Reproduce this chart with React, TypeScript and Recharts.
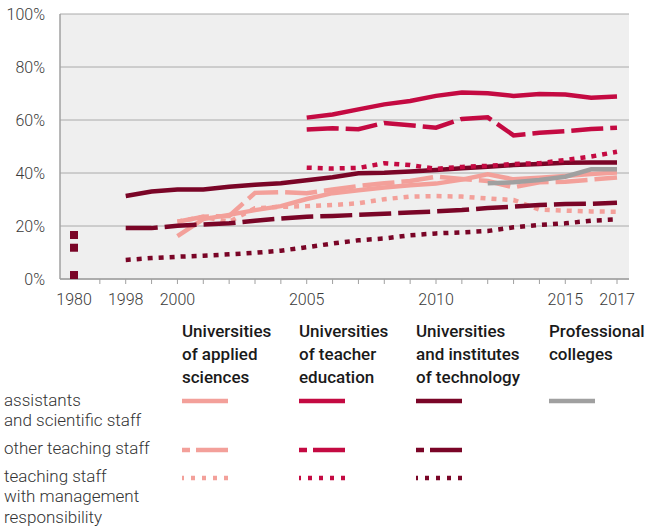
import React from "react";
import { LineChart, Line, XAxis, YAxis, CartesianGrid } from "recharts";

// categories: 1980 stands apart, "1997" is an empty slot that breaks the lines
const years = [
  "1980", "1997", "1998", "1999", "2000", "2001", "2002", "2003", "2004", "2005", "2006",
  "2007", "2008", "2009", "2010", "2011", "2012", "2013", "2014", "2015", "2016", "2017",
];
const labelledYears = ["1980", "1998", "2000", "2005", "2010", "2015", "2017"];
const yTicks = [0, 20, 40, 60, 80, 100];

const _ = null;

// universities of applied sciences
const appliedAssistants = [_, _, _, _, 16.2, 22.6, 24.2, 26.0, 27.5, 30.2, 32.4, 33.5, 34.5, 35.4, 36.0, 37.5, 39.5, 37.6, 38.2, 38.9, 39.6, 40.2];
const appliedOther = [_, _, _, _, 21.6, 23.5, 23.8, 32.5, 32.8, 32.4, 33.8, 35.1, 36.1, 37.0, 38.6, 37.7, 37.0, 34.6, 36.5, 36.7, 37.5, 38.3];
const appliedManagement = [_, _, _, _, 21.6, 23.5, 21.6, 26.7, 27.2, 27.5, 27.9, 28.6, 30.1, 31.1, 31.3, 31.1, 30.4, 29.8, 26.2, 25.8, 25.5, 25.4];

// universities of teacher education
const teacherAssistants = [_, _, _, _, _, _, _, _, _, 60.9, 62.1, 64.0, 65.9, 67.2, 69.1, 70.4, 70.1, 69.1, 69.8, 69.6, 68.4, 68.9];
const teacherOther = [_, _, _, _, _, _, _, _, _, 56.4, 56.9, 56.5, 58.9, 58.0, 57.1, 60.4, 61.0, 54.2, 55.2, 55.8, 56.6, 57.1];
const teacherManagement = [_, _, _, _, _, _, _, _, _, 42.0, 41.7, 41.9, 43.7, 43.0, 41.6, 42.3, 42.7, 43.4, 43.7, 44.9, 46.2, 48.0];

// universities and institutes of technology
const techAssistants = [16.6, _, 31.3, 33.0, 33.8, 33.8, 34.8, 35.6, 36.1, 37.3, 38.4, 39.9, 40.1, 40.6, 41.1, 41.8, 42.4, 43.0, 43.4, 43.9, 44.0, 44.0];
const techOther = [11.8, _, 19.2, 19.2, 20.1, 20.6, 21.0, 22.0, 22.8, 23.5, 23.8, 24.2, 24.6, 25.1, 25.5, 26.0, 26.8, 27.3, 27.9, 28.3, 28.4, 28.8];
const techManagement = [1.5, _, 7.2, 7.9, 8.4, 8.8, 9.3, 9.9, 10.7, 12.0, 13.4, 14.6, 15.3, 16.5, 17.2, 17.6, 18.1, 19.5, 20.4, 21.0, 22.0, 22.5];

// professional colleges
const profAssistants = [_, _, _, _, _, _, _, _, _, _, _, _, _, _, _, _, 36.1, 36.5, 37.4, 38.6, 41.4, 41.4];

const institutions = [
  { id: "applied", lines: ["Universities", "of applied", "sciences"] },
  { id: "teacher", lines: ["Universities", "of teacher", "education"] },
  { id: "tech", lines: ["Universities", "and institutes", "of technology"] },
  { id: "prof", lines: ["Professional", "colleges"] },
];
const staff = [
  { id: "assist", lines: ["assistants", "and scientific staff"] },
  { id: "other", lines: ["other teaching staff"] },
  { id: "mgmt", lines: ["teaching staff", "with management", "responsibility"] },
];

const colors: Record<string, string> = {
  applied: "#f3a09a",
  teacher: "#c40a42",
  tech: "#7a0527",
  prof: "#a0a0a0",
};
const dashes: Record<string, string | undefined> = {
  assist: undefined,
  other: "32 7",
  mgmt: "5 6",
};

const series = [
  { key: "appliedAssistants", inst: "applied", kind: "assist", values: appliedAssistants },
  { key: "appliedOther", inst: "applied", kind: "other", values: appliedOther },
  { key: "appliedManagement", inst: "applied", kind: "mgmt", values: appliedManagement },
  { key: "techAssistants", inst: "tech", kind: "assist", values: techAssistants },
  { key: "techOther", inst: "tech", kind: "other", values: techOther },
  { key: "techManagement", inst: "tech", kind: "mgmt", values: techManagement },
  { key: "teacherAssistants", inst: "teacher", kind: "assist", values: teacherAssistants },
  { key: "teacherOther", inst: "teacher", kind: "other", values: teacherOther },
  { key: "teacherManagement", inst: "teacher", kind: "mgmt", values: teacherManagement },
  { key: "profAssistants", inst: "prof", kind: "assist", values: profAssistants },
];

const data = years.map((year, i) => {
  const row: Record<string, string | number | null> = { year };
  series.forEach((s) => (row[s.key] = s.values[i]));
  return row;
});

const font = "Roboto, 'Noto Sans', sans-serif";

function YearTick(props: any) {
  const { x, y, payload, index } = props;
  const label = labelledYears.includes(payload.value) ? payload.value : "";
  return (
    <g>
      {index > 0 && <line x1={x} x2={x} y1={y} y2={y + 5} stroke="#a0a0a0" strokeWidth={1} />}
      <text x={x} y={y + 26} textAnchor="middle" fontSize={16} fill="#3a3a3a" fontFamily={font} fontWeight={300}>
        {label}
      </text>
    </g>
  );
}

// the lone 1980 values are drawn as squares
function squareDot(color: string) {
  return (props: any) => {
    const { cx, cy, index, value } = props;
    if (index !== 0 || value == null) return <g key={`d${index}`} />;
    return <rect key={`d${index}`} x={cx - 4} y={cy - 4} width={8} height={8} fill={color} />;
  };
}

function Sample({ inst, kind }: { inst: string; kind: string }) {
  const dash = kind === "other" ? "8 6 32" : kind === "mgmt" ? "4 7" : undefined;
  return (
    <svg width={48} height={8} style={{ display: "block" }}>
      <line
        x1={0}
        x2={46}
        y1={4}
        y2={4}
        stroke={colors[inst]}
        strokeWidth={4.5}
        strokeDasharray={dash}
        strokeDashoffset={kind === "mgmt" ? 2 : 0}
      />
    </svg>
  );
}

const colX = [182, 299, 416, 549];
const rowTop = [389.5, 438, 465.5];
const sampleY = [401, 450, 478];

export default function App() {
  return (
    <div style={{ position: "absolute", left: 0, top: 0, width: 652, height: 528, background: "#fff", fontFamily: font }}>
      <LineChart width={652} height={320} data={data} margin={{ top: 14, right: 23, bottom: 0, left: 0 }}>
        <CartesianGrid vertical={false} stroke="#aaaaaa" fill="#efefef" />
        <XAxis
          dataKey="year"
          type="category"
          interval={0}
          height={41}
          padding={{ left: 14, right: 12 }}
          tickSize={0}
          tickMargin={0}
          tickLine={false}
          axisLine={{ stroke: "#a0a0a0", strokeWidth: 1.5 }}
          tick={<YearTick />}
        />
        <YAxis
          domain={[0, 100]}
          ticks={yTicks}
          width={60}
          tickSize={0}
          tickMargin={15}
          tickLine={false}
          axisLine={{ stroke: "#a0a0a0", strokeWidth: 1.5 }}
          tickFormatter={(v) => `${v}%`}
          tick={{ fontSize: 16, fill: "#3a3a3a", fontFamily: font, fontWeight: 300 }}
        />
        <YAxis yAxisId="right" orientation="right" domain={[0, 100]} width={0} tick={false} tickLine={false} axisLine={{ stroke: "#a0a0a0", strokeWidth: 1.5 }} />
        {series.map((s) => (
          <Line
            key={s.key}
            dataKey={s.key}
            type="linear"
            stroke={colors[s.inst]}
            strokeWidth={4.5}
            strokeDasharray={dashes[s.kind]}
            dot={s.inst === "tech" ? squareDot(colors.tech) : false}
            activeDot={false}
            isAnimationActive={false}
          />
        ))}
      </LineChart>

      {institutions.map((inst, c) => (
        <div
          key={inst.id}
          style={{ position: "absolute", left: colX[c], top: 320, fontSize: 17, lineHeight: "23px", fontWeight: 500, color: "#1a1a1a", whiteSpace: "nowrap" }}
        >
          {inst.lines.map((l) => (
            <div key={l}>{l}</div>
          ))}
        </div>
      ))}

      {staff.map((st, r) => (
        <div
          key={st.id}
          style={{ position: "absolute", left: 4, top: rowTop[r], fontSize: 17, lineHeight: "20.5px", fontWeight: 300, color: "#333", whiteSpace: "nowrap" }}
        >
          {st.lines.map((l) => (
            <div key={l}>{l}</div>
          ))}
        </div>
      ))}

      {staff.map((st, r) =>
        institutions.map((inst, c) =>
          series.some((s) => s.inst === inst.id && s.kind === st.id) ? (
            <div key={`${st.id}-${inst.id}`} style={{ position: "absolute", left: colX[c], top: sampleY[r] - 4 }}>
              <Sample inst={inst.id} kind={st.id} />
            </div>
          ) : null
        )
      )}
    </div>
  );
}
